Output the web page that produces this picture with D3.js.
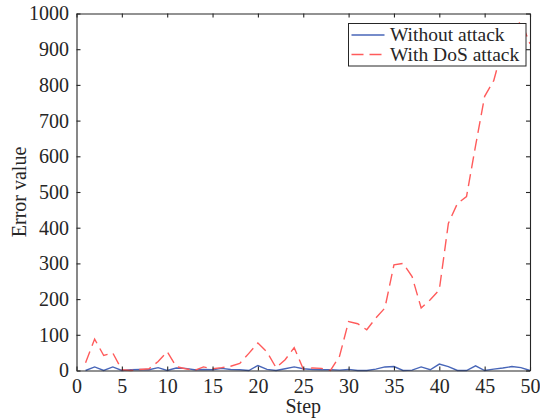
<!DOCTYPE html>
<meta charset="utf-8">
<style>
  body { margin: 0; background: #fff; }
  .axis path, .axis line { stroke: #262626; stroke-width: 1.1; }
</style>
<svg width="540" height="419"></svg>
<script src="https://cdn.jsdelivr.net/npm/d3@7"></script>
<script>

var steps = [1, 2, 3, 4, 5, 6, 7, 8, 9, 10,
             11, 12, 13, 14, 15, 16, 17, 18, 19, 20,
             21, 22, 23, 24, 25, 26, 27, 28, 29, 30,
             31, 32, 33, 34, 35, 36, 37, 38, 39, 40,
             41, 42, 43, 44, 45, 46, 47, 48, 49, 50];

var withoutAttack = [0, 10, 0, 10, 0, 2, 3, 2, 8, 0,
                     7, 6, 2, 3, 2, 6, 3, 2, 0, 14,
                     3, 0, 5, 10, 5, 3, 2, 2, 1, 3,
                     0, 0, 4, 10, 11, 0, 1, 10, 2, 18,
                     11, 0, 0, 13, 0, 4, 7, 11, 8, 0];

var withDoS = [22, 88, 42, 49, 2, 0, 3, 5, 25, 53,
               11, 5, 0, 10, 5, 8, 12, 20, 48, 77,
               52, 8, 30, 64, 4, 7, 6, 0, 40, 137,
               131, 114, 147, 175, 296, 300, 263, 175, 198, 226,
               412, 468, 487, 630, 768, 812, 905, 950, 978, 915];

var xTicks = [0, 5, 10, 15, 20, 25, 30, 35, 40, 45, 50];
var yTicks = [0, 100, 200, 300, 400, 500, 600, 700, 800, 900, 1000];

var seriesNames = ["Without attack", "With DoS attack"];
var seriesColors = ["#4866b8", "#ff5b5b"];

var svg = d3.select("svg"),
    margin = {top: 13.5, right: 10, bottom: 48.5, left: 76.5},
    width = +svg.attr("width") - margin.left - margin.right,
    height = +svg.attr("height") - margin.top - margin.bottom,
    g = svg.append("g").attr("transform", "translate(" + margin.left + "," + margin.top + ")");

var x = d3.scaleLinear().domain([0, 50]).range([0, width]);
var y = d3.scaleLinear().domain([0, 1000]).range([height, 0]);

var fontFamily = "Liberation Serif",
    fontSize = "20px",
    textColor = "#262626";

// lines
var series = [withoutAttack, withDoS].map(function(vals) {
  return vals.map(function(v, i) { return {x: steps[i], y: v}; });
});

var line = d3.line()
    .x(function(d) { return x(d.x); })
    .y(function(d) { return y(d.y); });

g.append("path")
    .datum(series[0])
    .attr("fill", "none")
    .attr("stroke", seriesColors[0])
    .attr("stroke-width", 1.4)
    .attr("d", line);

g.append("path")
    .datum(series[1])
    .attr("fill", "none")
    .attr("stroke", seriesColors[1])
    .attr("stroke-width", 1.4)
    .attr("stroke-dasharray", "12,6")
    .attr("d", line);

// axes, ticks pointing inward on all four sides
g.append("g")
    .attr("class", "axis")
    .attr("transform", "translate(0," + height + ")")
    .call(d3.axisBottom(x).tickValues(xTicks).tickFormat(d3.format("d"))
      .tickSizeInner(-4).tickSizeOuter(0).tickPadding(8));

g.append("g")
    .attr("class", "axis")
    .call(d3.axisLeft(y).tickValues(yTicks).tickFormat(d3.format("d"))
      .tickSizeInner(-4).tickSizeOuter(0).tickPadding(7.5));

g.append("g")
    .attr("class", "axis")
    .call(d3.axisTop(x).tickValues(xTicks).tickSizeInner(-4).tickSizeOuter(0).tickFormat(""));

g.append("g")
    .attr("class", "axis")
    .attr("transform", "translate(" + width + ",0)")
    .call(d3.axisRight(y).tickValues(yTicks).tickSizeInner(-4).tickSizeOuter(0).tickFormat(""));

g.selectAll(".axis text")
    .style("font-family", fontFamily)
    .style("font-size", fontSize)
    .attr("fill", textColor);

// axis labels
svg.append("text")
    .attr("text-anchor", "middle")
    .attr("x", margin.left + width / 2)
    .attr("y", 413)
    .style("font-family", fontFamily)
    .style("font-size", fontSize)
    .attr("fill", textColor)
    .text("Step");

svg.append("text")
    .attr("text-anchor", "middle")
    .attr("transform", "translate(26," + (margin.top + height / 2) + ")rotate(-90)")
    .style("font-family", fontFamily)
    .style("font-size", fontSize)
    .attr("fill", textColor)
    .text("Error value");

// legend
var legend = svg.append("g").attr("transform", "translate(348.5,23.5)");

legend.append("rect")
    .attr("width", 177.5)
    .attr("height", 42.5)
    .attr("fill", "#fff")
    .attr("stroke", "#262626")
    .attr("stroke-width", 1);

var item = legend.selectAll(".item")
    .data(seriesNames)
    .enter().append("g")
      .attr("class", "item")
      .attr("transform", function(d, i) { return "translate(0," + (11.5 + i * 19.5) + ")"; });

item.append("line")
    .attr("x1", 3)
    .attr("x2", 36)
    .attr("stroke", function(d, i) { return seriesColors[i]; })
    .attr("stroke-width", 1.4)
    .attr("stroke-dasharray", function(d, i) { return i ? "12,6" : null; });

item.append("text")
    .attr("x", 41.5)
    .attr("dy", "0.32em")
    .style("font-family", fontFamily)
    .style("font-size", "19.5px")
    .attr("fill", textColor)
    .text(function(d) { return d; });
</script>
